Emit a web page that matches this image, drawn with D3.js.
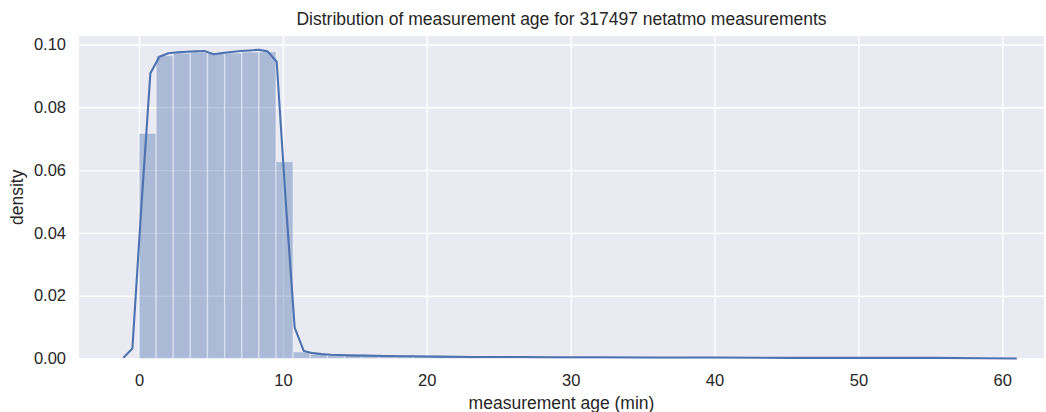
<!DOCTYPE html>
<html>
<head>
<meta charset="utf-8">
<script src="https://cdn.jsdelivr.net/npm/d3@7"></script>
<style>
    body { margin: 0; background: #fff; }
    text { font-family: Arial, 'Liberation Sans', sans-serif; fill: #262626; }
    .title-label { font-size: 17.5px; }
    .axis-label { font-size: 17.5px; }
    .tick-label { font-size: 16.5px; }
</style>
</head>
<body>
<div id="chart"></div>
<script>
    // histogram bins (density), first bin starts at 0
    const BIN_START = 0;
    const BIN_WIDTH = 1.19;
    const binDensity = [
        0.0717, 0.0965, 0.0973, 0.0975, 0.0972, 0.0973, 0.0976, 0.0977, 0.0627, 0.0021,
        0.0013, 0.0011, 0.0010, 0.0009, 0.0009, 0.0008, 0.0008, 0.0007, 0.0007, 0.0007,
        0.0006, 0.0006, 0.0006, 0.0005, 0.0005, 0.0005, 0.0005, 0.0004, 0.0004, 0.0004,
        0.0004, 0.0004, 0.0003, 0.0003, 0.0003, 0.0003, 0.0003, 0.0003, 0.0003, 0.0002,
        0.0002, 0.0002, 0.0002, 0.0002, 0.0002, 0.0002, 0.0002, 0.0002, 0.0002, 0.0002
    ];

    // kde curve
    const kdeAge = [
        -1.09, -0.46, 0.16, 0.79, 1.42, 2.04, 2.67, 3.30, 3.92, 4.55,
        5.18, 5.80, 6.43, 7.06, 7.69, 8.31, 8.94, 9.57, 10.20, 10.82,
        11.45, 12.08, 12.70, 13.33, 13.96, 14.59, 15.84, 17.10, 18.98, 20.86,
        23.37, 26.51, 29.02, 32.15, 35.92, 40.31, 45.33, 50.35, 55.37, 58.50, 61.01
    ];
    const kdeDensity = [
        0.0002, 0.0032, 0.0480, 0.0908, 0.0961, 0.0972, 0.0975, 0.0977, 0.0978, 0.0979,
        0.0969, 0.0973, 0.0976, 0.0979, 0.0981, 0.0983, 0.0978, 0.0945, 0.0500, 0.0098,
        0.0024, 0.0017, 0.0014, 0.0012, 0.0011, 0.0010, 0.0009, 0.0008, 0.0007, 0.0006,
        0.0005, 0.0005, 0.0004, 0.0004, 0.0003, 0.0003, 0.0002, 0.0002, 0.0002, 0.0001, 0.0000
    ];

    const xTicks = [0, 10, 20, 30, 40, 50, 60];
    const yTicks = [0, 0.02, 0.04, 0.06, 0.08, 0.10];

    const TITLE = 'Distribution of measurement age for 317497 netatmo measurements';
    const X_LABEL = 'measurement age (min)';
    const Y_LABEL = 'density';

    const WIDTH = 1046;
    const HEIGHT = 412;
    const margin = { top: 36, left: 79, right: 2, bottom: 53.5 };
    const COLOR = '#4c72b0';

    let xScale = d3.scaleLinear().domain([-4.17, 62.9]).range([margin.left, WIDTH - margin.right]);
    let yScale = d3.scaleLinear().domain([0, 0.1027]).range([HEIGHT - margin.bottom, margin.top]);

    let svg = d3.select('#chart')
        .append('svg')
        .attr('width', WIDTH)
        .attr('height', HEIGHT);

    /** plot background */
    svg.append('rect')
        .attr('x', margin.left)
        .attr('y', margin.top)
        .attr('width', WIDTH - margin.left - margin.right)
        .attr('height', HEIGHT - margin.top - margin.bottom)
        .style('fill', '#eaeaf2');

    /** grid */
    let grid = svg.append('g');
    grid.append('g')
        .attr('transform', `translate(0, ${HEIGHT - margin.bottom})`)
        .call(d3.axisBottom(xScale).tickValues(xTicks).tickSize(-(HEIGHT - margin.top - margin.bottom)).tickFormat(''));
    grid.append('g')
        .attr('transform', `translate(${margin.left}, 0)`)
        .call(d3.axisLeft(yScale).tickValues(yTicks).tickSize(-(WIDTH - margin.left - margin.right)).tickFormat(''));
    grid.selectAll('.domain').remove();
    grid.selectAll('line')
        .style('stroke', '#fff')
        .style('stroke-width', 1.4);

    /** histogram bars */
    svg.append('g')
        .selectAll('rect')
        .data(binDensity)
        .enter()
        .append('rect')
        .attr('x', (d, i) => xScale(BIN_START + i * BIN_WIDTH))
        .attr('width', (d, i) => xScale(BIN_START + (i + 1) * BIN_WIDTH) - xScale(BIN_START + i * BIN_WIDTH))
        .attr('y', (d) => yScale(d))
        .attr('height', (d) => yScale(0) - yScale(d))
        .style('fill', COLOR)
        .style('fill-opacity', 0.4)
        .style('stroke', '#fff')
        .style('stroke-opacity', 0.4)
        .style('stroke-width', 1.4);

    /** kde line */
    let line = d3.line()
        .x((d) => xScale(d[0]))
        .y((d) => yScale(d[1]));

    svg.append('path')
        .datum(d3.zip(kdeAge, kdeDensity))
        .attr('d', line)
        .style('fill', 'none')
        .style('stroke', COLOR)
        .style('stroke-width', 2.1)
        .style('stroke-linejoin', 'round');

    /** tick labels */
    let xAxis = svg.append('g')
        .attr('transform', `translate(0, ${HEIGHT - margin.bottom})`)
        .call(d3.axisBottom(xScale).tickValues(xTicks).tickSize(0).tickPadding(16).tickFormat(d3.format('d')));
    let yAxis = svg.append('g')
        .attr('transform', `translate(${margin.left}, 0)`)
        .call(d3.axisLeft(yScale).tickValues(yTicks).tickSize(0).tickPadding(13).tickFormat(d3.format('.2f')));
    [xAxis, yAxis].forEach((ax) => {
        ax.select('.domain').remove();
        ax.selectAll('text')
            .attr('class', 'tick-label')
            .attr('fill', '#262626')
            .style('font-family', "Arial, 'Liberation Sans', sans-serif");
    });

    /** title and axis labels */
    svg.append('text')
        .attr('class', 'title-label')
        .attr('x', (margin.left + WIDTH - margin.right) / 2)
        .attr('y', 25)
        .attr('text-anchor', 'middle')
        .text(TITLE);

    svg.append('text')
        .attr('class', 'axis-label')
        .attr('x', (margin.left + WIDTH - margin.right) / 2)
        .attr('y', 409)
        .attr('text-anchor', 'middle')
        .text(X_LABEL);

    svg.append('text')
        .attr('class', 'axis-label')
        .attr('transform', `translate(23, ${(margin.top + HEIGHT - margin.bottom) / 2}) rotate(-90)`)
        .attr('text-anchor', 'middle')
        .text(Y_LABEL);
</script>
</body>
</html>
